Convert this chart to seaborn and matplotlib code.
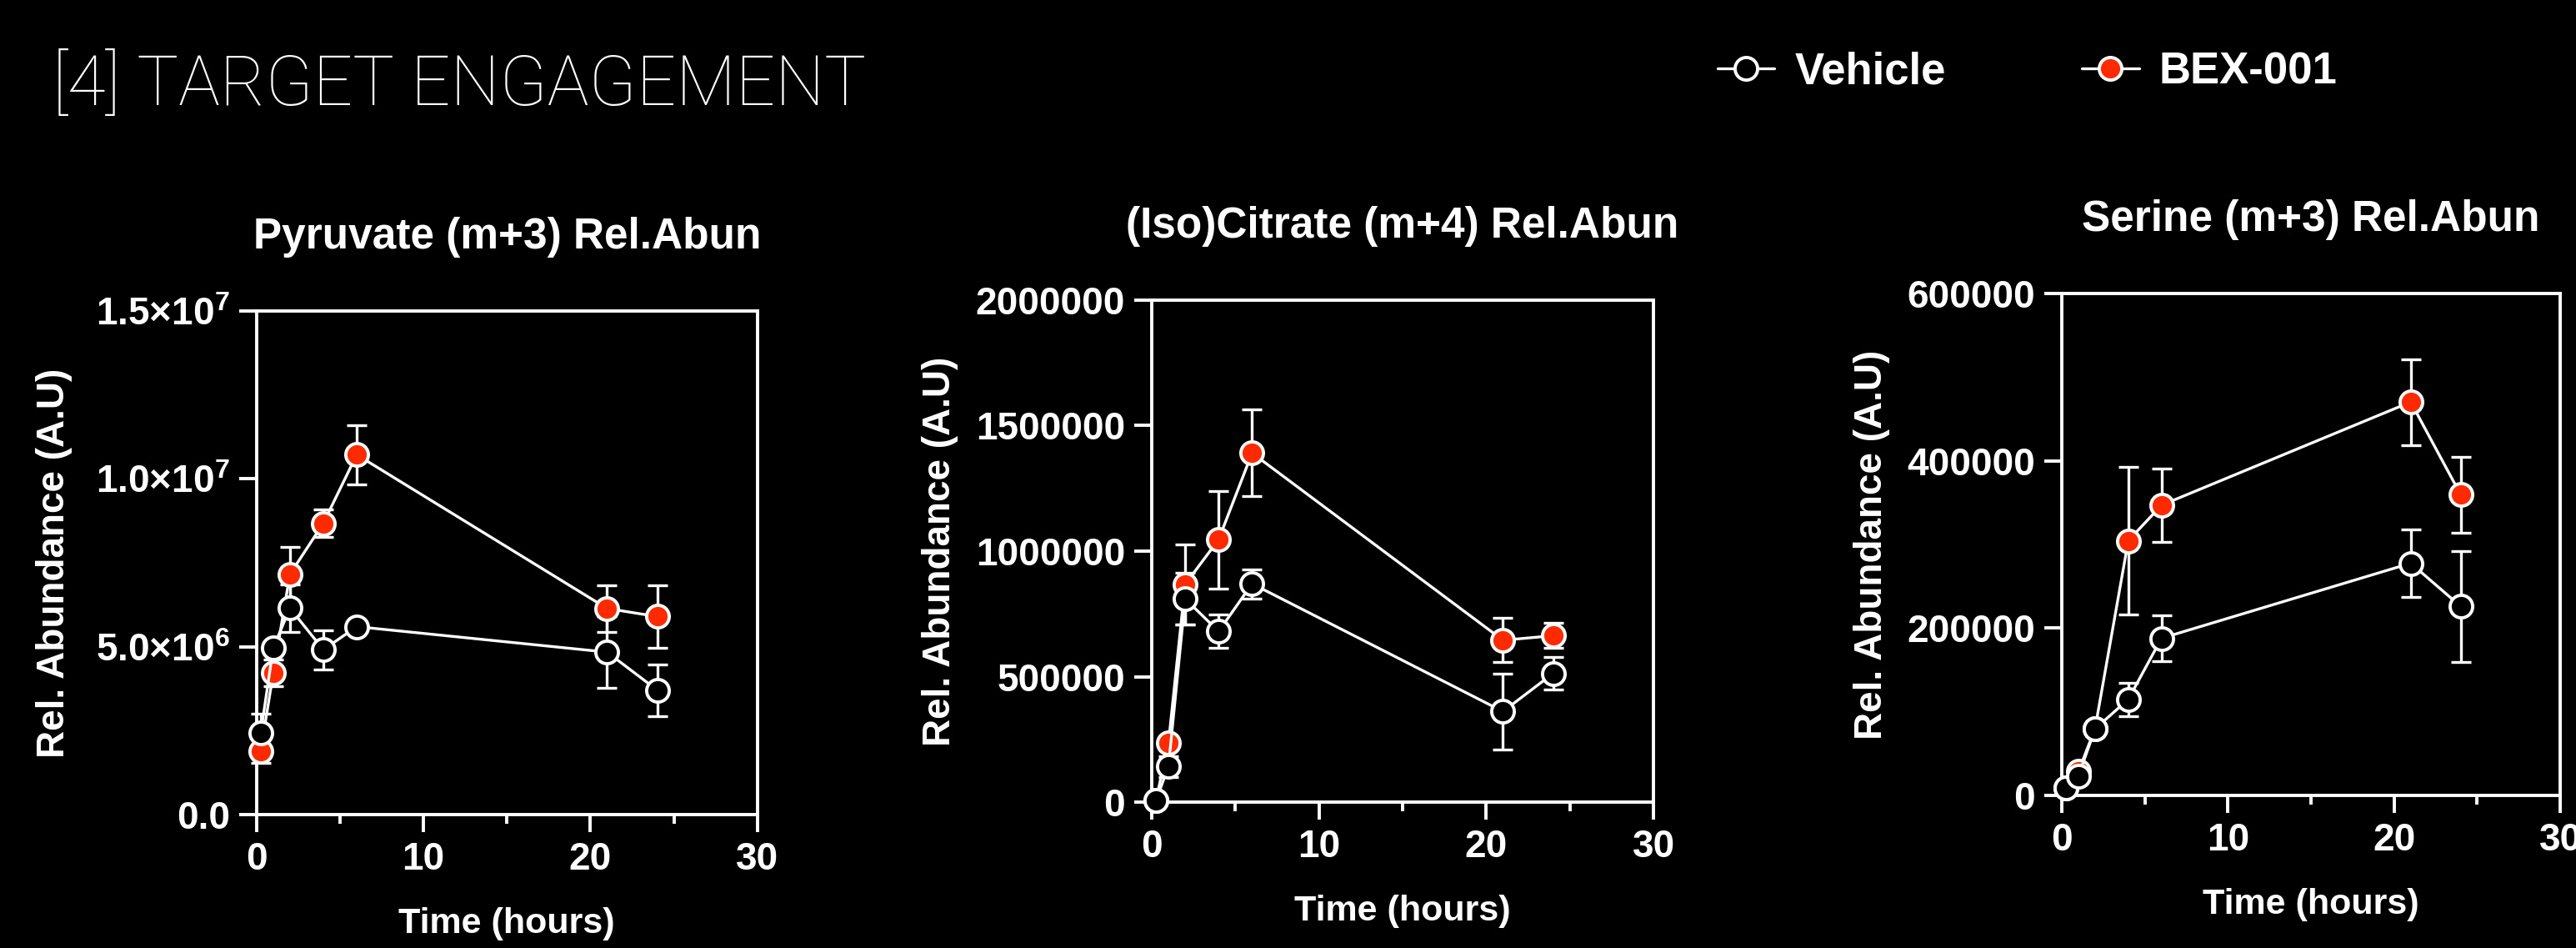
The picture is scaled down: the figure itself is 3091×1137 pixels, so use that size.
import matplotlib
matplotlib.use("Agg")
import matplotlib.pyplot as plt
import seaborn as sns
import numpy as np
import pandas as pd
from matplotlib.ticker import FixedLocator, MultipleLocator

# time points (hours)
times = [0.25, 1, 2, 4, 6, 21, 24]
group_names = ["Vehicle", "BEX-001"]

# Pyruvate (m+3)
pyr_vehicle = [2.43e6, 4.97e6, 6.15e6, 4.91e6, 5.60e6, 4.84e6, 3.71e6]
pyr_vehicle_err = [0.57e6, 0.15e6, 0.70e6, 0.58e6, 0.10e6, 1.06e6, 0.77e6]
pyr_bex = [1.90e6, 4.22e6, 7.16e6, 8.68e6, 10.72e6, 6.14e6, 5.90e6]
pyr_bex_err = [0.37e6, 0.39e6, 0.82e6, 0.42e6, 0.88e6, 0.70e6, 0.94e6]

# (Iso)Citrate (m+4)
cit_vehicle = [6000, 142000, 810000, 680000, 870000, 361000, 513000]
cit_vehicle_err = [3000, 42000, 102000, 67000, 58000, 150000, 64000]
cit_bex = [6000, 235000, 868000, 1046000, 1391000, 645000, 663000]
cit_bex_err = [3000, 25000, 160000, 194000, 173000, 88000, 50000]

# Serine (m+3)
ser_vehicle = [9000, 23300, 79600, 114900, 187900, 277600, 226100]
ser_vehicle_err = [2000, 5000, 8000, 19700, 27500, 40100, 66100]
ser_bex = [9000, 28700, 80000, 304500, 347000, 470300, 359600]
ser_bex_err = [2000, 5000, 8000, 88000, 43700, 51200, 45500]

titles = ["Pyruvate (m+3) Rel.Abun", "(Iso)Citrate (m+4) Rel.Abun", "Serine (m+3) Rel.Abun"]
y_ticks = [
    [0, 5e6, 1e7, 1.5e7],
    [0, 500000, 1000000, 1500000, 2000000],
    [0, 200000, 400000, 600000],
]
y_ticklabels = [
    ["0.0", r"$\mathbf{5.0{\times}10^{6}}$", r"$\mathbf{1.0{\times}10^{7}}$", r"$\mathbf{1.5{\times}10^{7}}$"],
    ["0", "500000", "1000000", "1500000", "2000000"],
    ["0", "200000", "400000", "600000"],
]
x_ticks = [0, 10, 20, 30]

series = [
    (pyr_vehicle, pyr_vehicle_err, pyr_bex, pyr_bex_err),
    (cit_vehicle, cit_vehicle_err, cit_bex, cit_bex_err),
    (ser_vehicle, ser_vehicle_err, ser_bex, ser_bex_err),
]

RED = "#ff2a00"

sns.set_theme(style="ticks")
plt.rcParams["font.family"] = ["Liberation Sans", "DejaVu Sans"]
plt.rcParams["font.weight"] = "bold"
plt.rcParams["mathtext.fontset"] = "custom"
plt.rcParams["mathtext.rm"] = "Liberation Sans"
plt.rcParams["mathtext.bf"] = "Liberation Sans:bold"
plt.rcParams["text.color"] = "white"
plt.rcParams["axes.labelcolor"] = "white"
plt.rcParams["xtick.color"] = "white"
plt.rcParams["ytick.color"] = "white"

fig = plt.figure(figsize=(30.91, 11.37), dpi=100, facecolor="black")

axes_pos = [
    [0.0996, 0.1407, 0.1944, 0.5312],
    [0.4471, 0.1539, 0.1948, 0.5295],
    [0.8004, 0.1609, 0.1935, 0.5295],
]
ylabel_pads = [20, 15, 15]

for i in range(3):
    ax = fig.add_axes(axes_pos[i])
    ax.set_facecolor("black")
    veh, veh_err, bex, bex_err = series[i]

    df = pd.DataFrame({
        "Time": times * 2,
        "Value": list(bex) + list(veh),
        "Err": list(bex_err) + list(veh_err),
        "Group": ["BEX-001"] * len(times) + ["Vehicle"] * len(times),
    })

    for grp, face in [("BEX-001", RED), ("Vehicle", "black")]:
        sub = df[df["Group"] == grp]
        ax.errorbar(sub["Time"], sub["Value"], yerr=sub["Err"], fmt="none",
                    ecolor="white", elinewidth=2.4, capsize=8.5, capthick=2.4,
                    clip_on=False, zorder=3)
        sns.lineplot(data=sub, x="Time", y="Value", ax=ax, color="white",
                     linewidth=2.4, marker="o", markersize=19.5,
                     markerfacecolor=face, markeredgecolor="white",
                     markeredgewidth=2.8, label=grp, clip_on=False,
                     zorder=4, errorbar=None)

    ax.set_xlim(0, 30)
    ax.set_ylim(0, y_ticks[i][-1])
    ax.xaxis.set_major_locator(FixedLocator(x_ticks))
    ax.xaxis.set_minor_locator(MultipleLocator(5))
    ax.set_xticklabels([str(t) for t in x_ticks])
    ax.yaxis.set_major_locator(FixedLocator(y_ticks[i]))
    ax.set_yticklabels(y_ticklabels[i])

    for s in ax.spines.values():
        s.set_color("white")
        s.set_linewidth(2.8)
        s.set_visible(True)
    ax.tick_params(axis="both", which="major", length=15, width=2.8,
                   labelsize=33, pad=8, direction="out")
    ax.tick_params(axis="x", which="minor", length=8, width=2.8, direction="out")
    ax.tick_params(axis="y", which="minor", length=0)

    ax.set_xlabel("Time (hours)", fontsize=31, fontweight="bold", labelpad=25)
    ax.set_ylabel("Rel. Abundance (A.U)", fontsize=33, fontweight="bold",
                  labelpad=ylabel_pads[i])
    ax.set_title(titles[i], fontsize=37, fontweight="bold", color="white", pad=54)

    if i == 0:
        handles, labels = ax.get_legend_handles_labels()
    ax.get_legend().remove()

order = [labels.index("Vehicle"), labels.index("BEX-001")]
fig.legend([handles[k] for k in order], [labels[k] for k in order],
           loc="center", bbox_to_anchor=(0.787, 0.924), ncol=2, frameon=False,
           handlelength=1.3, handletextpad=0.45, columnspacing=3.1,
           prop={"weight": "bold", "size": 38})

fig.text(0.0204, 0.889, "[4] TARGET ENGAGEMENT", fontsize=60, color="white",
         family="Roboto", fontweight=100, ha="left", va="baseline")

fig.savefig("out.png", dpi=100, facecolor="black")
